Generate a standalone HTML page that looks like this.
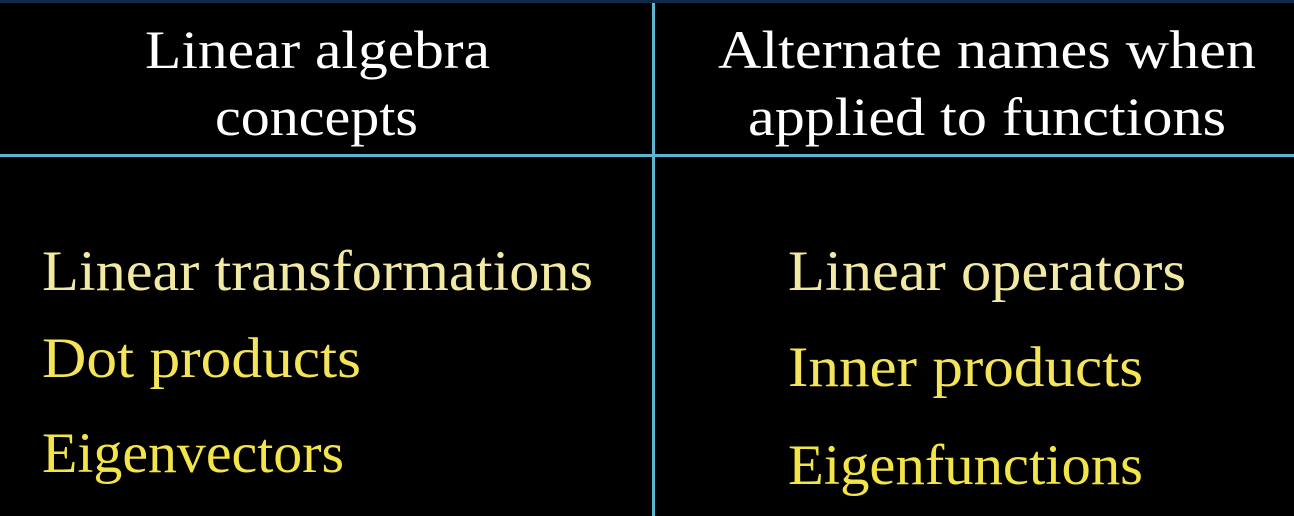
<!DOCTYPE html>
<html><head><meta charset="utf-8"><style>
html,body{margin:0;padding:0;background:#000;}
svg{display:block;}
text{font-family:"Liberation Serif",serif;}
</style></head><body>
<svg width="1294" height="516" viewBox="0 0 1294 516" xmlns="http://www.w3.org/2000/svg">
<rect width="1294" height="516" fill="#000"/>
<rect x="0" y="0" width="1294" height="3" fill="#0f2a44"/>
<rect x="652" y="3" width="3" height="513" fill="#5cb6d2"/>
<rect x="0" y="154" width="1294" height="3" fill="#5cb6d2"/>
<g fill="#ffffff" font-size="54">
<text x="145" y="68" textLength="345" lengthAdjust="spacingAndGlyphs">Linear algebra</text>
<text x="215" y="135" textLength="203" lengthAdjust="spacingAndGlyphs">concepts</text>
<text x="718" y="68" textLength="538" lengthAdjust="spacingAndGlyphs">Alternate names when</text>
<text x="748" y="135" textLength="478" lengthAdjust="spacingAndGlyphs">applied to functions</text>
</g>
<g font-size="57">
<text x="42" y="290" fill="#f2e9a2" textLength="551" lengthAdjust="spacingAndGlyphs">Linear transformations</text>
<text x="42" y="377" fill="#f3e45a" textLength="319" lengthAdjust="spacingAndGlyphs">Dot products</text>
<text x="42" y="472" fill="#f3e447" textLength="302" lengthAdjust="spacingAndGlyphs">Eigenvectors</text>
<text x="788" y="290" fill="#f2e9a2" textLength="398" lengthAdjust="spacingAndGlyphs">Linear operators</text>
<text x="788" y="386" fill="#f3e45a" textLength="355" lengthAdjust="spacingAndGlyphs">Inner products</text>
<text x="788" y="484" fill="#f3e447" textLength="355" lengthAdjust="spacingAndGlyphs">Eigenfunctions</text>
</g>
</svg>
</body></html>
